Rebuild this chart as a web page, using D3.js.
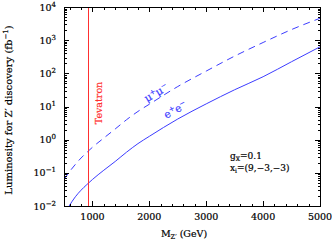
<!DOCTYPE html>
<html><head><meta charset="utf-8">
<script src="https://cdn.jsdelivr.net/npm/d3@7"></script>
<style>body{margin:0;background:#fff}svg{display:block}text{font-family:"DejaVu Serif",serif;fill:#000;stroke:#000;stroke-width:0.2}</style>
</head><body><svg id="c" width="332" height="242"></svg>
<script>
// Data (Z' mass in GeV, luminosity in fb^-1)
const massEE = [590,700,800,900,1000,1200,1400,1600,1800,2000,2500,3000,3500,4000,4500,5000];
const lumEE  = [0.010,0.019,0.030,0.044,0.063,0.12,0.22,0.42,0.76,1.26,4.2,12,32,79,224,630];
const massMM = [500,600,700,800,900,1000,1200,1400,1600,1800,2000,2500,3000,3500,4000,4500,5000];
const lumMM  = [0.063,0.11,0.18,0.28,0.41,0.59,1.12,2.1,4.0,7.1,11.7,40,117,331,851,2090,4570];
const tevatronMass = 930;
const xTickLabels = [1000,2000,3000,4000,5000];
const yTickExps = [-2,-1,0,1,2,3,4];

const svg = d3.select("#c");
const L=64,R=320,T=7,B=206;
const x = d3.scaleLinear().domain([500,5000]).range([L,R]);
const y = d3.scaleLog().domain([1e-2,1e4]).range([B,T]);
const blue="#3c3cff", red="#ff3030";

svg.append("clipPath").attr("id","clip").append("rect").attr("x",L).attr("y",T).attr("width",R-L).attr("height",B-T);
const g = svg.append("g").attr("clip-path","url(#clip)");

const line = d3.line().x(d=>x(d[0])).y(d=>y(d[1])).curve(d3.curveMonotoneX);
g.append("path").datum(massEE.map((m,i)=>[m,lumEE[i]])).attr("d",line)
  .attr("fill","none").attr("stroke",blue).attr("stroke-width",1);
g.append("path").datum(massMM.map((m,i)=>[m,lumMM[i]])).attr("d",line)
  .attr("fill","none").attr("stroke",blue).attr("stroke-width",1).attr("stroke-dasharray","7,5");
const tx = Math.round(x(tevatronMass))+0.5;
svg.append("line").attr("x1",tx).attr("x2",tx).attr("y1",T).attr("y2",B)
  .attr("stroke",red).attr("stroke-width",1).attr("shape-rendering","crispEdges");

// frame
svg.append("rect").attr("x",L+0.5).attr("y",T+0.5).attr("width",R-L).attr("height",B-T)
  .attr("fill","none").attr("stroke","#000").attr("stroke-width",1).attr("shape-rendering","crispEdges");

// ticks
const tk = svg.append("g").attr("stroke","#000").attr("stroke-width",1).attr("shape-rendering","crispEdges");
const xMinor = d3.range(600,5000,200);
xMinor.forEach(v=>{
  const len = (v%1000===0)?5:2.5;
  const px = Math.round(x(v))+0.5;
  tk.append("line").attr("x1",px).attr("x2",px).attr("y1",B).attr("y2",B-len);
  tk.append("line").attr("x1",px).attr("x2",px).attr("y1",T).attr("y2",T+len);
});
y.ticks().forEach(v=>{
  const lg=Math.log10(v), major=Math.abs(lg-Math.round(lg))<1e-9;
  const len = major?5:2.5;
  const py = Math.round(y(v))+0.5;
  tk.append("line").attr("x1",L).attr("x2",L+len).attr("y1",py).attr("y2",py);
  tk.append("line").attr("x1",R).attr("x2",R-len).attr("y1",py).attr("y2",py);
});

// tick labels
xTickLabels.forEach(v=>{
  svg.append("text").attr("x",x(v)).attr("y",220).attr("text-anchor","middle")
    .attr("font-size",9.5).text(v);
});
yTickExps.forEach(e=>{
  const t = svg.append("text").attr("x",56).attr("y",y(Math.pow(10,e))+3.5)
    .attr("text-anchor","end").attr("font-size",9.5);
  t.append("tspan").text("10");
  t.append("tspan").attr("dy",-4).attr("font-size",7).text(e<0?"\u2212"+(-e):e);
});

// axis titles
const yt = svg.append("text").attr("transform","translate(12,110) rotate(-90)")
  .attr("text-anchor","middle").attr("font-size",10);
yt.append("tspan").text("Luminosity for Z\u2032 discovery (fb");
yt.append("tspan").attr("dy",-4).attr("font-size",7).text("\u22121");
yt.append("tspan").attr("dy",4).text(")");

const xt = svg.append("text").attr("x",184).attr("y",237).attr("text-anchor","middle").attr("font-size",9.5);
xt.append("tspan").text("M");
xt.append("tspan").attr("dy",2).attr("font-size",6.5).text("Z\u2032");
xt.append("tspan").attr("dy",-2).text(" (GeV)");

// labels
svg.append("text").attr("transform","translate(102,103) rotate(-90)").attr("text-anchor","middle")
  .attr("font-size",9.5).style("fill",red).style("stroke",red).text("Tevatron");
const mm = svg.append("text").attr("transform","translate(158,96) rotate(-30)").attr("text-anchor","middle")
  .attr("font-size",10.5).style("fill",blue).style("stroke",blue);
mm.append("tspan").text("\u03bc");
mm.append("tspan").attr("dy",-4).attr("font-size",7).text("+");
mm.append("tspan").attr("dy",4).text("\u03bc");
mm.append("tspan").attr("dy",-4).attr("font-size",7).text("\u2212");
const ee = svg.append("text").attr("transform","translate(177,113) rotate(-28)").attr("text-anchor","middle")
  .attr("font-size",10.5).style("fill",blue).style("stroke",blue);
ee.append("tspan").text("e");
ee.append("tspan").attr("dy",-4).attr("font-size",7).text("+");
ee.append("tspan").attr("dy",4).text("e");
ee.append("tspan").attr("dy",-4).attr("font-size",7).text("\u2212");

const a1 = svg.append("text").attr("x",230).attr("y",159).attr("font-size",9);
a1.append("tspan").text("g");
a1.append("tspan").attr("dy",1.5).attr("font-size",6).text("X");
a1.append("tspan").attr("dy",-1.5).text("=0.1");
const a2 = svg.append("text").attr("x",230).attr("y",171).attr("font-size",9);
a2.append("tspan").text("x");
a2.append("tspan").attr("dy",1.5).attr("font-size",6).text("i");
a2.append("tspan").attr("dy",-1.5).text("=(9,\u22123,\u22123)");
</script></body></html>
